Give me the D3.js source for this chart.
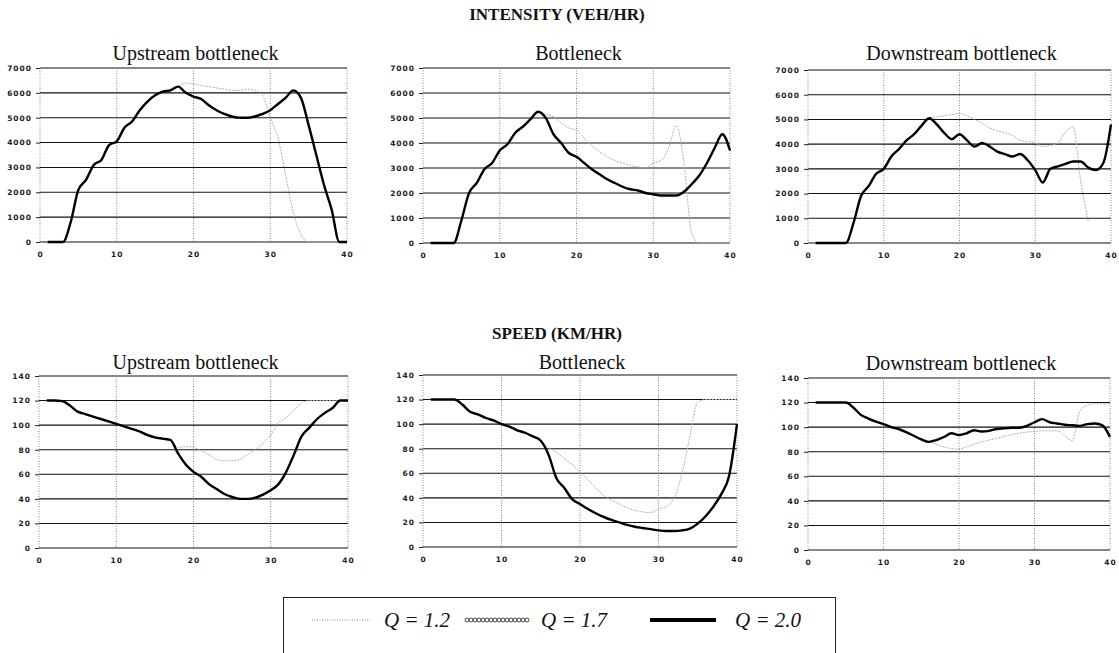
<!DOCTYPE html>
<html>
<head>
<meta charset="utf-8">
<script src="https://cdn.jsdelivr.net/npm/d3@7"></script>
<style>
  html, body { margin: 0; padding: 0; background: #fff; }
  svg { display: block; }
  .tick-label { font-family: "DejaVu Sans", sans-serif; font-size: 7.5px; fill: #1a1a1a; letter-spacing: 1px; font-weight: bold; }
  .panel-title { font-family: "Liberation Serif", "Times New Roman", serif; font-size: 20px; fill: #111; }
  .group-title { font-family: "Liberation Serif", "Times New Roman", serif; font-size: 17px; font-weight: bold; fill: #111; }
  .legend-text { font-family: "Liberation Serif", "Times New Roman", serif; font-size: 21px; font-style: italic; fill: #111; }
</style>
</head>
<body>
<svg id="chart" width="1119" height="653"></svg>
<script>
// Time steps (minutes) along the x axis
const minutes = [1,2,3,4,5,6,7,8,9,10,11,12,13,14,15,16,17,18,19,20,
                 21,22,23,24,25,26,27,28,29,30,31,32,33,34,35,36,37,38,39,40];

const intensityTicks = [0,1000,2000,3000,4000,5000,6000,7000];
const speedTicks = [0,20,40,60,80,100,120,140];
const xTicks = [0,10,20,30,40];

const groupTitles = ["INTENSITY (VEH/HR)", "SPEED (KM/HR)"];
const panelTitles = ["Upstream bottleneck", "Bottleneck", "Downstream bottleneck"];
const legendLabels = ["Q = 1.2", "Q = 1.7", "Q = 2.0"];

// Intensity (veh/hr), Q = 2.0
const intUpQ20 = [0,0,0,800,2100,2500,3100,3300,3900,4050,4600,4850,5300,5650,5900,6050,6100,6250,6000,5850,
                  5750,5500,5300,5150,5050,5000,5000,5050,5150,5300,5550,5800,6100,5800,4700,3500,2300,1300,0,0];
const intMidQ20 = [0,0,0,0,900,2000,2400,2950,3200,3700,3950,4400,4650,4950,5250,5000,4350,4000,3600,3450,
                   3200,2950,2750,2550,2400,2250,2150,2100,2000,1950,1900,1900,1900,2050,2350,2700,3200,3800,4350,3700];
const intDownQ20 = [0,0,0,0,0,800,1900,2300,2800,3000,3500,3800,4150,4400,4750,5050,4800,4450,4200,4400,
                    4150,3900,4050,3900,3700,3600,3500,3600,3350,2950,2450,3000,3100,3200,3300,3300,3050,2950,3250,4800];

// Intensity (veh/hr), Q = 1.2
const intUpQ12 = [0,0,0,800,2100,2500,3100,3300,3900,4050,4600,4850,5300,5650,5900,6050,6100,6250,6400,6350,
                  6300,6250,6200,6150,6100,6100,6150,6100,5900,5000,4200,2700,1200,300,0,0,0,0,0,0];
const intMidQ12 = [0,0,0,0,900,2000,2400,2950,3200,3700,3950,4400,4650,4950,5250,5150,5050,4800,4600,4500,
                   4200,3900,3650,3450,3300,3200,3100,3050,3000,3200,3300,3800,4700,3200,400,0,0,0,0,0];
const intDownQ12 = [0,0,0,0,0,800,1900,2300,2800,3000,3500,3800,4150,4400,4750,5050,5100,5150,5200,5250,
                    5150,5000,4850,4650,4550,4450,4350,4150,4100,4050,3900,3950,4050,4500,4700,2500,900,null,null,null];

// Speed (km/hr), Q = 2.0
const spdUpQ20 = [120,120,119.5,116,111,109,107,105,103,101,99,97,95,92,90,89,88,77,68,62,
                  58,52,48,44,41.5,40,40,41,43.5,47,52,62,76,91,98,105,110,114,120,120];
const spdMidQ20 = [120,120,120,120,116,110,108,105,103,100,98,95,93,90,86.5,75,56,48,39,35,
                   31,27.5,24.5,22,20,18,16.5,15.5,14.5,13.5,13,13,13.5,15,19,25,33,43,58,100];
const spdDownQ20 = [120,120,120,120,120,116,110,107,104.5,102.5,100,98.5,96,93,90,88,89.5,92,95,93.5,
                    95,97.5,96.5,97,98.5,99,99.5,99.5,101,104,106.5,104,103,102,101.5,101,102.5,103,101.5,92];

// Speed (km/hr), Q = 1.2
const spdUpQ12 = [120,120,119.5,116,111,109,107,105,103,101,99,97,95,92,90,89,88,82,82.5,82,
                  79,76,72,71,71,72,76,80,85,92,102,106,112,118,120,120,120,120,120,120];
const spdMidQ12 = [120,120,120,120,116,110,108,105,103,100,98,95,93,90,86.5,81,77,72,67,61,
                   55,48,42,38,35,32,30,28.5,28,31,33,40,60,90,118,120,120,120,120,120];
const spdDownQ12 = [120,120,120,120,120,116,110,107,104.5,102.5,100,98.5,96,93,90,88,86,84,82.5,82,
                    84,86,88,89.5,91,92.5,94,95,96,96.5,97,97,97,93,89,113,118,119,119,119];

// Panel frames: plot-area edges in pixels
const panels = [
  { title: panelTitles[0], ticks: intensityTicks, max: 7000, q12: intUpQ12,   q20: intUpQ20,   x0: 40,  x1: 347,  y0: 68,  y1: 242, ty: 60 },
  { title: panelTitles[1], ticks: intensityTicks, max: 7000, q12: intMidQ12,  q20: intMidQ20,  x0: 423, x1: 730,  y0: 68,  y1: 243, ty: 60 },
  { title: panelTitles[2], ticks: intensityTicks, max: 7000, q12: intDownQ12, q20: intDownQ20, x0: 808, x1: 1111, y0: 70,  y1: 243, ty: 60 },
  { title: panelTitles[0], ticks: speedTicks,     max: 140,  q12: spdUpQ12,   q20: spdUpQ20,   x0: 39,  x1: 348,  y0: 376, y1: 548, ty: 369 },
  { title: panelTitles[1], ticks: speedTicks,     max: 140,  q12: spdMidQ12,  q20: spdMidQ20,  x0: 423, x1: 737,  y0: 375, y1: 547, ty: 369 },
  { title: panelTitles[2], ticks: speedTicks,     max: 140,  q12: spdDownQ12, q20: spdDownQ20, x0: 808, x1: 1110, y0: 378, y1: 550, ty: 370 }
];

const svg = d3.select("#chart");

// Group headings
svg.append("text").attr("class", "group-title").attr("x", 557).attr("y", 20)
  .attr("text-anchor", "middle").text(groupTitles[0]);
svg.append("text").attr("class", "group-title").attr("x", 557).attr("y", 339)
  .attr("text-anchor", "middle").text(groupTitles[1]);

panels.forEach(p => {
  const x = d3.scaleLinear().domain([0, 40]).range([p.x0, p.x1]);
  const y = d3.scaleLinear().domain([0, p.max]).range([p.y1, p.y0]);
  const g = svg.append("g");

  // Horizontal gridlines (solid, dark)
  g.selectAll("line.hgrid").data(p.ticks).join("line")
    .attr("x1", p.x0).attr("x2", p.x1)
    .attr("y1", d => y(d)).attr("y2", d => y(d))
    .attr("stroke", "#111").attr("stroke-width", 1.1);

  // Vertical gridlines (dotted, light)
  g.selectAll("line.vgrid").data(xTicks).join("line")
    .attr("x1", d => x(d)).attr("x2", d => x(d))
    .attr("y1", p.y0).attr("y2", p.y1)
    .attr("stroke", "#888").attr("stroke-width", 1).attr("stroke-dasharray", "1,1.5");

  // Y axis: short ticks on the left with labels
  const yAxis = d3.axisLeft(y).tickValues(p.ticks).tickSize(4).tickPadding(4).tickFormat(d3.format("d"));
  const ya = g.append("g").attr("transform", `translate(${p.x0},0)`).call(yAxis);
  ya.select(".domain").remove();
  ya.selectAll("line").attr("stroke", "#222");
  ya.selectAll("text").attr("class", "tick-label").attr("font-family", null).attr("font-size", null);

  // X axis: labels only
  const xAxis = d3.axisBottom(x).tickValues(xTicks).tickSize(0).tickPadding(10).tickFormat(d3.format("d"));
  const xa = g.append("g").attr("transform", `translate(0,${p.y1})`).call(xAxis);
  xa.select(".domain").remove();
  xa.selectAll("text").attr("class", "tick-label").attr("font-family", null).attr("font-size", null);

  const line = d3.line()
    .defined(d => d[1] !== null)
    .x(d => x(d[0])).y(d => y(d[1]))
    .curve(d3.curveMonotoneX);

  // Q = 1.2 (light dotted)
  g.append("path").datum(minutes.map((m, i) => [m, p.q12[i]]))
    .attr("d", line).attr("fill", "none")
    .attr("stroke", "#b0b0b0").attr("stroke-width", 1).attr("stroke-dasharray", "2,1.2");

  // Q = 2.0 (heavy black)
  g.append("path").datum(minutes.map((m, i) => [m, p.q20[i]]))
    .attr("d", line).attr("fill", "none")
    .attr("stroke", "#000").attr("stroke-width", 2.4).attr("stroke-linejoin", "round");

  // Panel title
  svg.append("text").attr("class", "panel-title")
    .attr("x", (p.x0 + p.x1) / 2 + 2).attr("y", p.ty)
    .attr("text-anchor", "middle").text(p.title);
});

// Legend
const lg = svg.append("g");
lg.append("rect").attr("x", 283.5).attr("y", 597.5).attr("width", 552).attr("height", 60)
  .attr("fill", "#fff").attr("stroke", "#222").attr("stroke-width", 1);

const ly = 620;
// Q = 1.2 sample: dotted
lg.append("line").attr("x1", 312).attr("x2", 370).attr("y1", ly).attr("y2", ly)
  .attr("stroke", "#888").attr("stroke-width", 1).attr("stroke-dasharray", "1,1.5");
lg.append("text").attr("class", "legend-text").attr("x", 384).attr("y", ly + 7).text(legendLabels[0]);

// Q = 1.7 sample: chain of small loops
const loopPath = d3.path();
for (let k = 0; k < 16; k++) {
  const cx = 467 + k * 4;
  loopPath.moveTo(cx + 2, ly);
  loopPath.arc(cx, ly, 2, 0, 2 * Math.PI);
}
lg.append("path").attr("d", loopPath.toString()).attr("fill", "none")
  .attr("stroke", "#333").attr("stroke-width", 0.9);
lg.append("text").attr("class", "legend-text").attr("x", 541).attr("y", ly + 7).text(legendLabels[1]);

// Q = 2.0 sample: thick solid
lg.append("line").attr("x1", 650).attr("x2", 716).attr("y1", ly).attr("y2", ly)
  .attr("stroke", "#000").attr("stroke-width", 4);
lg.append("text").attr("class", "legend-text").attr("x", 735).attr("y", ly + 7).text(legendLabels[2]);
</script>
</body>
</html>
